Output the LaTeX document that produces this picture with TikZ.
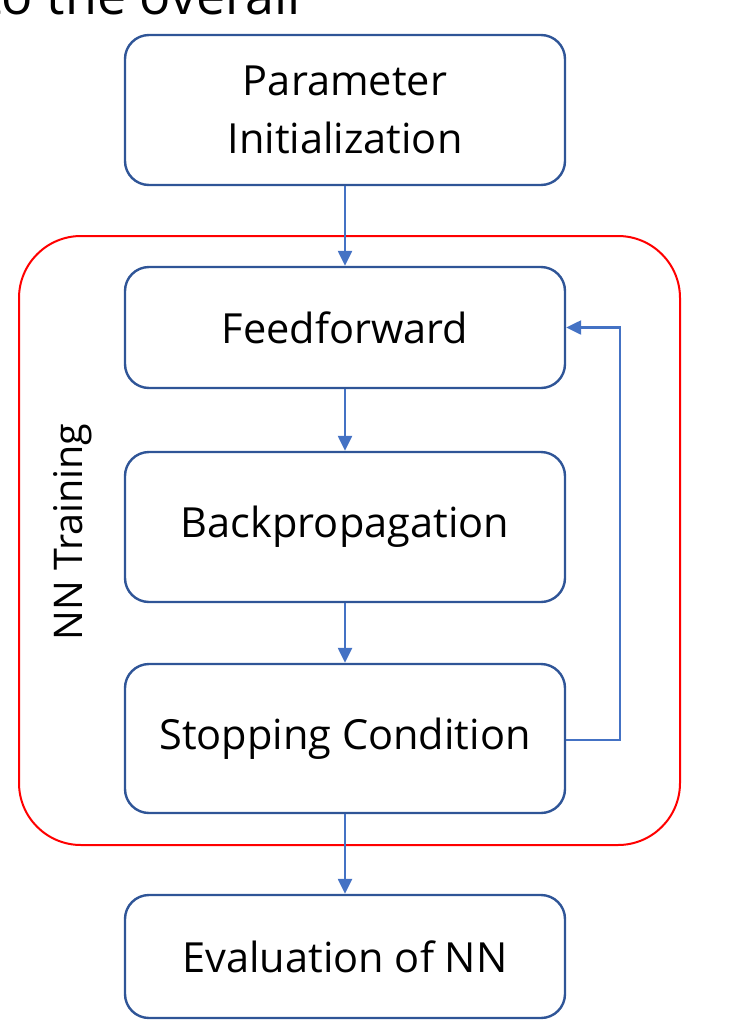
\documentclass[tikz,border=0pt]{standalone}
\usepackage{fontspec}
\setmainfont{Open Sans}
\usetikzlibrary{arrows.meta,calc}
\definecolor{boxline}{HTML}{2F5597}
\definecolor{arrowc}{HTML}{4472C4}
\definecolor{redline}{HTML}{FF0000}
\begin{document}
\begin{tikzpicture}[x=1pt,y=-1pt,
  stepbox/.style={draw=boxline,line width=2.4pt,rounded corners=24pt,minimum width=440pt,align=center,font=\fontsize{41.5}{58}\selectfont,inner sep=0pt},
  flow/.style={draw=arrowc,line width=2.4pt,-{Triangle[width=14pt,length=15pt]}}]
\useasboundingbox (0,0) rectangle (730,1023);
\clip (0,0) rectangle (730,1023);
\node[anchor=base west,font=\fontsize{52}{60}\selectfont] (title) at (-20,14) {to the overall};
\draw[redline,line width=2pt,rounded corners=62pt] (19,236) rectangle (680,845);
\node[rotate=90,font=\fontsize{39.5}{50}\selectfont] (nn) at (73,532) {NN Training};
\node[stepbox,minimum height=150pt] (init) at (345,110) {Parameter\\Initialization};
\node[stepbox,minimum height=121pt] (ff) at (345,327.5) {Feedforward};
\node[stepbox,minimum height=150pt] (bp) at (345,527) {Backpropagation};
\node[stepbox,minimum height=149pt] (stop) at (345,738.5) {Stopping Condition};
\node[stepbox,minimum height=123pt] (eval) at (345,956.5) {Evaluation of NN};
\draw[flow] (init.south) -- (ff.north);
\draw[flow] (ff.south) -- (bp.north);
\draw[flow] (bp.south) -- (stop.north);
\draw[flow] (stop.south) -- (eval.north);
\coordinate (c1) at (620,740);
\coordinate (c2) at (620,327.5);
\draw[flow] (stop.east |- c1) -- (c1) -- (c2) -- (ff.east);
\end{tikzpicture}
\end{document}
